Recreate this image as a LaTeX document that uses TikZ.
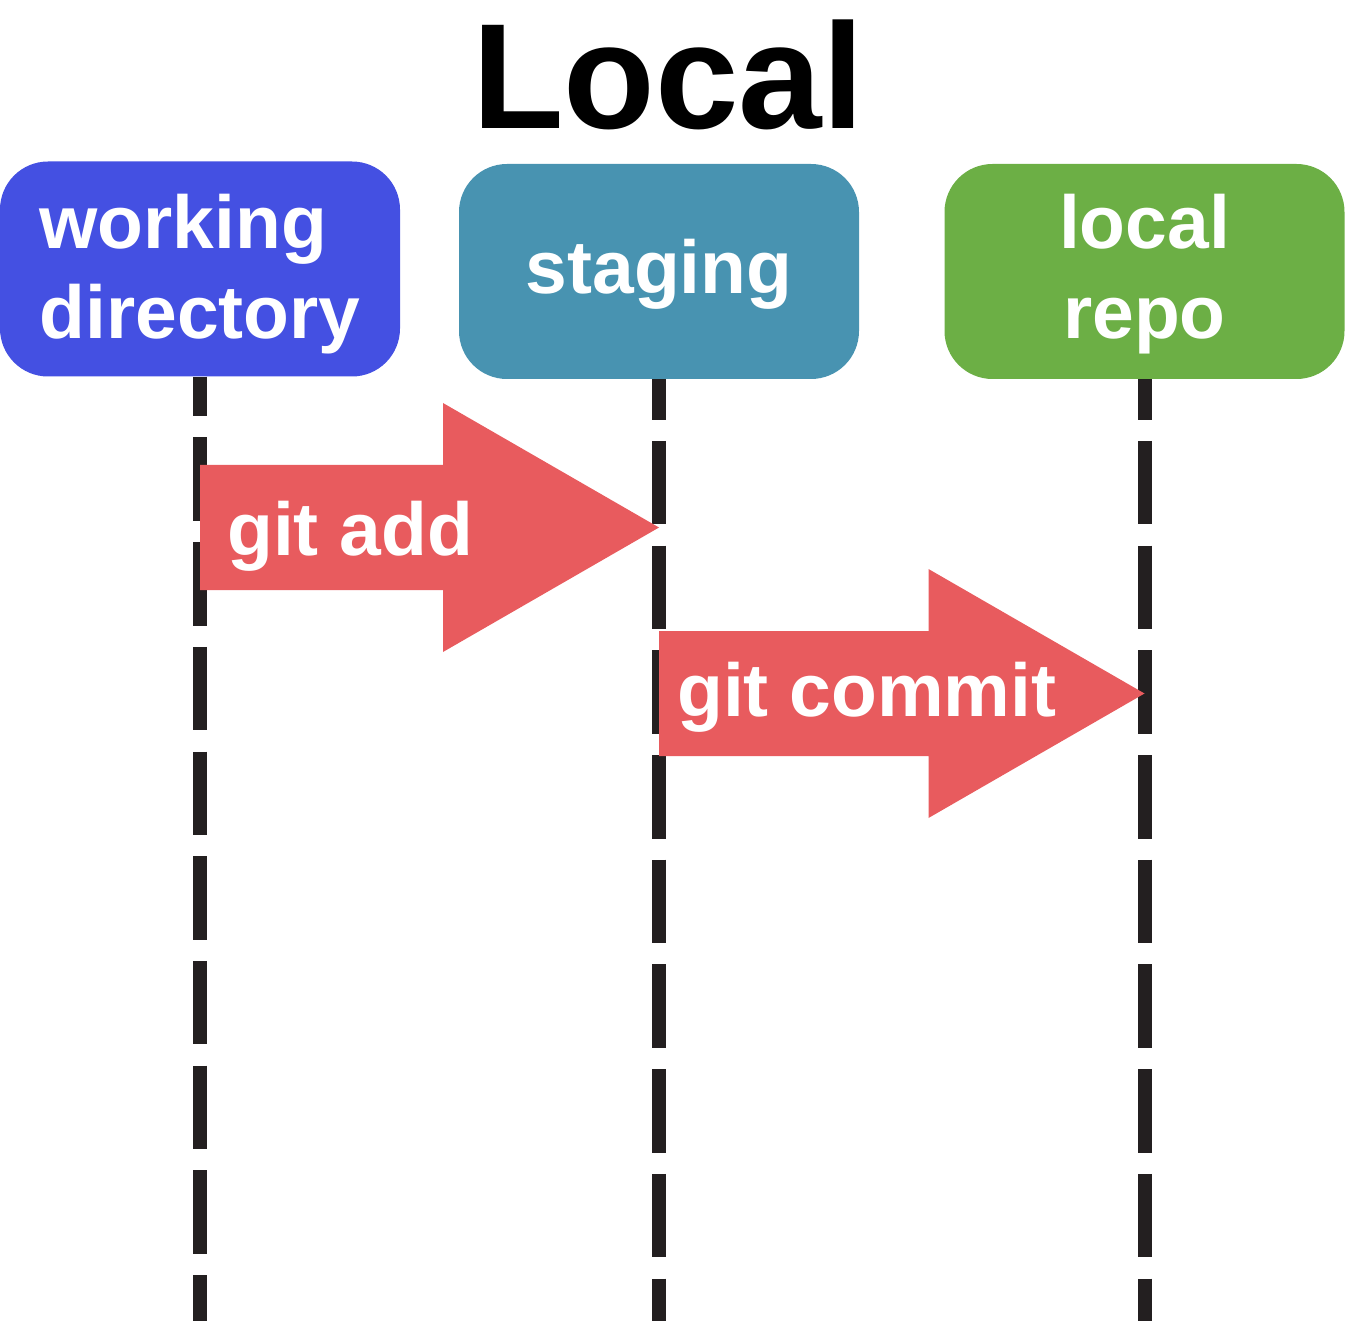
\documentclass[tikz,border=0pt]{standalone}
\usepackage{fontspec}
\setmainfont{Liberation Sans}
\usepackage{xcolor}
\definecolor{wdblue}{RGB}{68,80,226}
\definecolor{stageteal}{RGB}{72,147,177}
\definecolor{repogreen}{RGB}{108,175,69}
\definecolor{cmdred}{RGB}{232,91,94}
\definecolor{lineblack}{RGB}{35,31,32}
\tikzset{
  bigarrow/.style={to path={([yshift=62.5pt]\tikztostart) -- ([xshift=-216pt,yshift=62.5pt]\tikztotarget)
      -- ([xshift=-216pt,yshift=124.5pt]\tikztotarget) -- (\tikztotarget)
      -- ([xshift=-216pt,yshift=-124.5pt]\tikztotarget) -- ([xshift=-216pt,yshift=-62.5pt]\tikztotarget)
      -- ([yshift=-62.5pt]\tikztostart) -- cycle}}
}

\begin{document}
\begin{tikzpicture}[x=1pt,y=-1pt]
\useasboundingbox (0,0) rectangle (1345,1321);
\node[anchor=base,inner sep=0,font=\fontsize{150}{180}\selectfont\bfseries] (title) at (668,129) {Local};

\begin{scope}[every node/.style={rounded corners=48pt,minimum width=400pt,minimum height=215pt,
              inner sep=0,text=white,font=\fontsize{75}{90}\selectfont\bfseries}]
    \node[align=left,fill=wdblue,text height=156pt,text depth=16pt] (wd) at (200,269) {working\\directory};
    \node[align=center,fill=stageteal,text height=61pt,text depth=16pt] (stage) at (659,271.5) {staging};
    \node[align=center,fill=repogreen,text height=151pt,text depth=16pt] (repo) at (1144.5,271.5) {local\\repo};
\end{scope}

\coordinate (bottom) at (0,1321);
\coordinate (addrow) at (0,527.5);
\coordinate (commitrow) at (0,693.5);
\coordinate (addfrom) at (wd |- addrow);
\coordinate (addto) at (stage |- addrow);
\coordinate (commitfrom) at (stage |- commitrow);
\coordinate (committo) at (repo |- commitrow);

\begin{scope}[every edge/.style={draw=lineblack,line width=14pt,dash pattern=on 83.5pt off 21.2pt}]
    \path (wd.south) edge[dash phase=44pt] (wd |- bottom);
    \path (stage.south) edge[dash phase=43pt] (stage |- bottom);
    \path (repo.south) edge[dash phase=43pt] (repo |- bottom);
\end{scope}

\begin{scope}[every edge/.style={fill=cmdred,draw=none}]
    \path (addfrom) edge[bigarrow] (addto);
    \path (commitfrom) edge[bigarrow] (committo);
\end{scope}

\begin{scope}[every node/.style={anchor=base west,inner sep=0,text=white,font=\fontsize{75}{90}\selectfont\bfseries}]
    \node (addlabel) at (227,555) {git add};
    \node (commitlabel) at (677,716) {git commit};
\end{scope}
\end{tikzpicture}
\end{document}
